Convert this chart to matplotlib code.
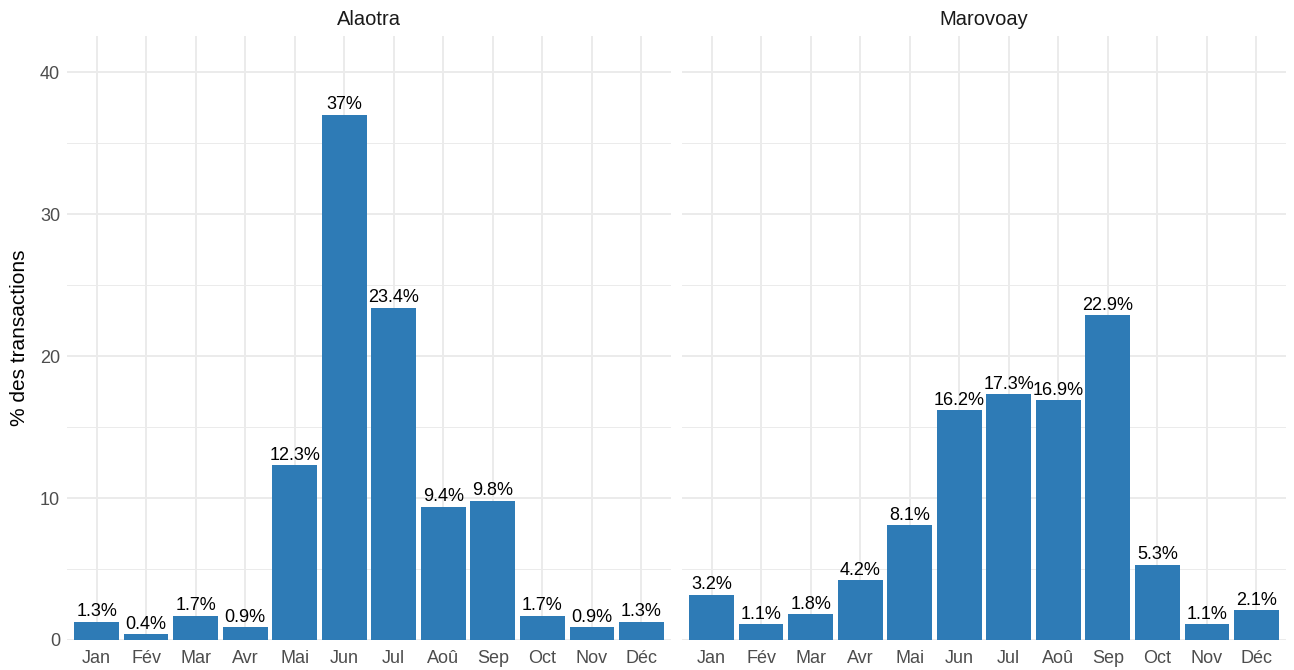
import matplotlib
matplotlib.use("Agg")
import matplotlib.pyplot as plt
import numpy as np

plt.rcParams['font.family'] = ['Liberation Sans', 'DejaVu Sans']

months = ["Jan", "Fév", "Mar", "Avr", "Mai", "Jun", "Jul", "Aoû", "Sep", "Oct", "Nov", "Déc"]
regions = ["Alaotra", "Marovoay"]
alaotra = [1.3, 0.4, 1.7, 0.9, 12.3, 37.0, 23.4, 9.4, 9.8, 1.7, 0.9, 1.3]
marovoay = [3.2, 1.1, 1.8, 4.2, 8.1, 16.2, 17.3, 16.9, 22.9, 5.3, 1.1, 2.1]
labels_alaotra = ["1.3%", "0.4%", "1.7%", "0.9%", "12.3%", "37%", "23.4%", "9.4%", "9.8%", "1.7%", "0.9%", "1.3%"]
labels_marovoay = ["3.2%", "1.1%", "1.8%", "4.2%", "8.1%", "16.2%", "17.3%", "16.9%", "22.9%", "5.3%", "1.1%", "2.1%"]
yticks = [0, 10, 20, 30, 40]

W, H = 1294, 670
fig = plt.figure(figsize=(W / 100, H / 100), dpi=100)
bar_color = "#2E7BB6"
grid_color = "#EBEBEB"
tick_color = "#4D4D4D"

panels = [(67, 671), (682, 1286)]
top, bottom = 36, 640
data = [(alaotra, labels_alaotra), (marovoay, labels_marovoay)]
x = np.arange(len(months))
for i, ((l, r), (vals, labs)) in enumerate(zip(panels, data)):
    ax = fig.add_axes([l / W, 1 - bottom / H, (r - l) / W, (bottom - top) / H])
    ax.set_facecolor("white")
    ax.set_xlim(-0.6, 11.6)
    ax.set_ylim(0, 42.55)
    ax.set_yticks(yticks)
    ax.set_yticks([5, 15, 25, 35], minor=True)
    ax.set_xticks(x)
    ax.set_xticklabels(months)
    ax.grid(True, which="major", color=grid_color, linewidth=1.4)
    ax.grid(True, which="minor", axis="y", color=grid_color, linewidth=0.7)
    ax.set_axisbelow(True)
    for s in ax.spines.values():
        s.set_visible(False)
    ax.tick_params(which="both", length=0, labelsize=13, labelcolor=tick_color)
    ax.tick_params(axis="x", pad=7)
    ax.tick_params(axis="y", pad=5)
    if i == 0:
        ax.set_ylabel("% des transactions", fontsize=15, color="black", labelpad=8)
    else:
        ax.set_yticklabels([])
    ax.bar(x, vals, width=0.9, color=bar_color, zorder=2)
    for xi, v, lab in zip(x, vals, labs):
        ax.text(xi, v + 0.1, lab, ha="center", va="bottom", fontsize=13, color="black", zorder=3)
    ax.set_title(regions[i], fontsize=14.5, color="#1A1A1A", pad=8)

fig.savefig("out.png", dpi=100)
